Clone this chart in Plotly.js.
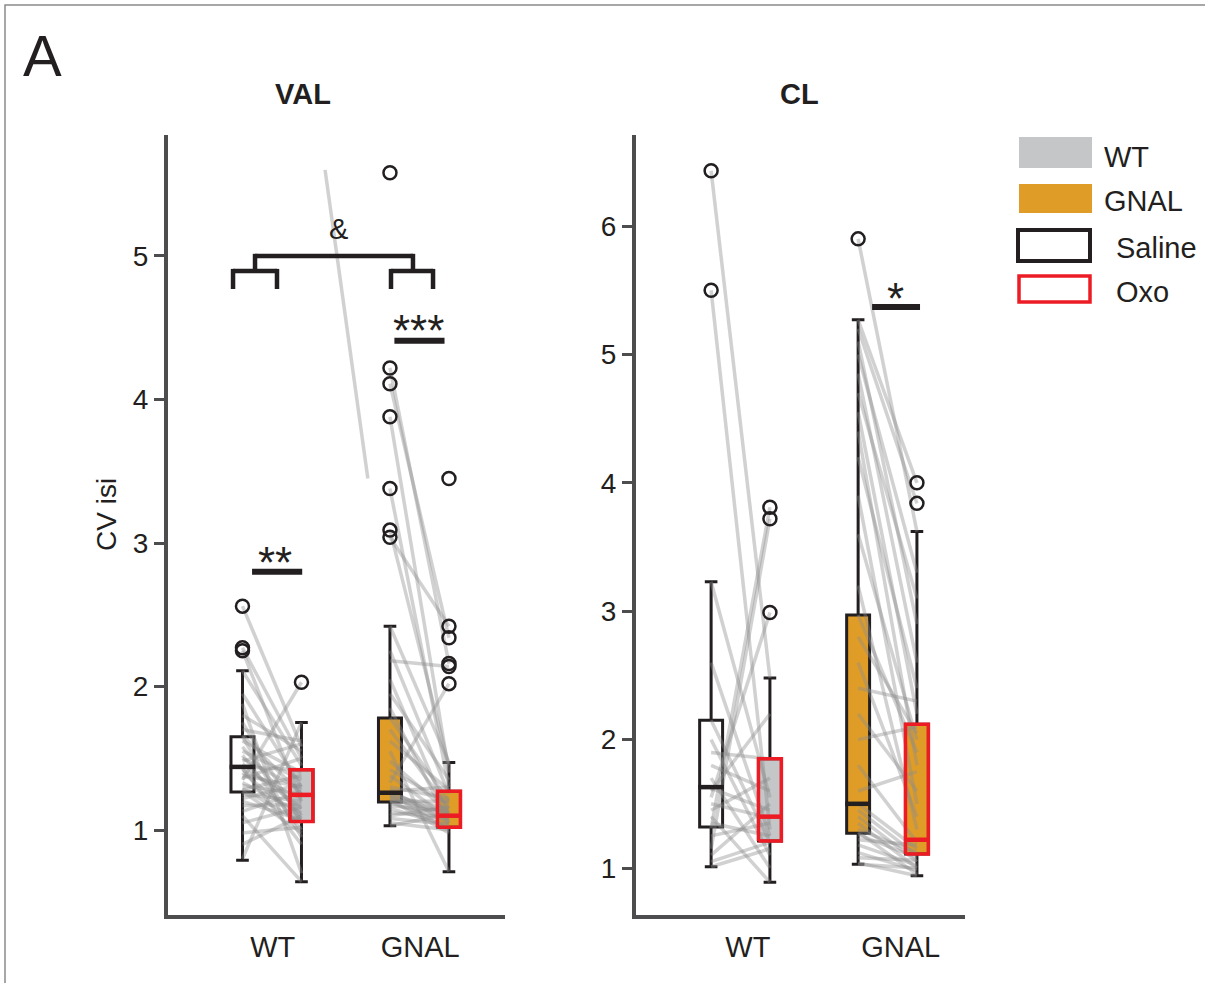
<!DOCTYPE html>
<html>
<head>
<meta charset="utf-8">
<script src="https://cdn.plot.ly/plotly-3.0.1.min.js"></script>
<style>html,body{margin:0;padding:0;background:#fff;}#chart{width:1205px;height:983px;}</style>
</head>
<body>
<div id="chart"></div>
<script>
// ---------------- DATA ----------------
const categories = ['WT', 'GNAL'];
const conditions = ['Saline', 'Oxo'];

// VAL box statistics: order = WT saline, WT oxo, GNAL saline, GNAL oxo
const valQ1  = [1.265, 1.06, 1.195, 1.02];
const valMed = [1.44, 1.245, 1.26, 1.10];
const valQ3  = [1.65, 1.42, 1.78, 1.27];
const valLo  = [0.79, 0.64, 1.03, 0.71];
const valHi  = [2.11, 1.75, 2.42, 1.47];
const valOutWTSal   = [2.56, 2.27, 2.25];
const valOutWTOxo   = [2.03];
const valOutGNALSal = [5.58, 4.22, 4.11, 3.88, 3.38, 3.09, 3.04];
const valOutGNALOxo = [3.45, 2.42, 2.34, 2.16, 2.14, 2.02];

// CL box statistics
const clQ1  = [1.32, 1.21, 1.27, 1.11];
const clMed = [1.63, 1.40, 1.50, 1.22];
const clQ3  = [2.15, 1.85, 2.97, 2.12];
const clLo  = [1.01, 0.89, 1.03, 0.94];
const clHi  = [3.23, 2.48, 5.27, 3.62];
const clOutWTSal   = [6.43, 5.50];
const clOutWTOxo   = [3.81, 3.72, 2.99];
const clOutGNALSal = [5.90];
const clOutGNALOxo = [4.00, 3.84];

// Paired cells (saline -> oxo), VAL
const valWTSal = [2.56,2.27,2.25,2.11,1.95,1.88,1.80,1.75,1.70,1.66,1.65,1.62,1.58,1.55,1.52,1.50,1.48,1.46,1.44,1.43,1.42,1.40,1.38,1.36,1.35,1.33,1.31,1.29,1.28,1.27,1.25,1.22,1.20,1.17,1.13,1.10,1.05,0.98,0.90,0.80];
const valWTOxo = [1.58,1.50,1.20,1.45,1.30,0.70,1.55,1.05,1.62,1.25,0.95,1.40,1.10,1.35,1.00,1.28,1.60,1.15,1.42,0.90,1.22,1.08,1.30,1.50,2.03,1.12,1.25,1.05,1.38,0.98,1.20,1.32,1.07,1.18,1.27,0.64,1.16,1.02,1.10,1.75];
const valGNALSal = [4.22,4.11,3.88,3.38,3.09,3.04,2.42,2.25,2.18,2.05,1.95,1.85,1.78,1.70,1.62,1.55,1.48,1.42,1.38,1.33,1.30,1.28,1.27,1.26,1.25,1.24,1.23,1.22,1.21,1.20,1.19,1.17,1.15,1.12,1.10,1.08,1.05,1.03];
const valGNALOxo = [2.16,2.34,1.40,1.30,1.45,2.42,1.47,1.25,2.14,1.10,1.35,1.05,1.20,1.15,1.28,0.71,1.12,1.18,1.08,2.02,1.22,1.05,1.30,1.10,1.00,1.15,1.08,1.12,0.98,1.20,1.06,1.13,1.03,1.09,1.16,1.04,1.00,1.11];
// stray segment visible in the VAL panel (x in category units, y in CV isi)
const valStrayX = [1.36, 1.65];
const valStrayY = [5.60, 3.45];

// Paired cells (saline -> oxo), CL
const clWTSal = [6.43,5.50,3.23,2.60,2.15,2.00,1.90,1.80,1.70,1.62,1.55,1.50,1.45,1.40,1.35,1.31,1.25,1.15,1.10,1.05,1.01,1.60];
const clWTOxo = [2.48,1.30,1.55,1.25,1.20,1.10,1.85,1.60,1.00,1.45,2.99,1.39,1.70,0.89,1.25,3.81,1.35,3.72,1.50,1.20,1.15,2.20];
const clGNALSal = [5.90,5.27,5.20,5.10,5.00,4.85,4.70,4.55,4.40,4.20,3.90,3.60,3.20,2.97,2.80,2.60,2.40,2.20,2.00,1.80,1.60,1.50,1.45,1.40,1.35,1.30,1.28,1.26,1.22,1.18,1.12,1.08,1.04,1.03];
const clGNALOxo = [3.62,4.00,3.84,2.90,3.30,2.60,3.10,2.20,1.80,2.40,1.50,2.00,1.30,1.90,2.05,1.40,2.30,1.60,2.10,1.20,1.75,1.15,1.10,1.05,1.00,1.12,0.95,1.08,1.18,1.02,0.98,1.06,0.94,1.00];

// ---------------- STYLE ----------------
const FONT = 'Liberation Sans, Arial, Helvetica, sans-serif';
const INK = '#231f20';
const AXIS = '#4d4d4f';
const RED = '#ed1c24';
const ORANGE = '#df9d27';
const GREY = '#c5c6c8';
const PAIR = 'rgba(140,140,140,0.40)';
const slotX = [0.8, 1.2, 1.8, 2.2];
const boxW = 0.156;
const boxFill = ['rgba(255,255,255,0)', GREY, ORANGE, ORANGE];
const W = 1205, H = 983;
const px = v => v / W, py = v => 1 - v / H;

const traces = [];
function panel(xa, ya, q1, med, q3, lo, hi, outs, pairs) {
  for (let i = 0; i < 4; i++) {
    traces.push({
      type: 'box', xaxis: xa, yaxis: ya, x: [slotX[i]],
      q1: [q1[i]], median: [med[i]], q3: [q3[i]], lowerfence: [lo[i]], upperfence: [hi[i]],
      width: boxW, whiskerwidth: 0.55, boxpoints: false,
      fillcolor: boxFill[i], line: {color: INK, width: 3},
      name: categories[Math.floor(i / 2)] + ' ' + conditions[i % 2], showlegend: false, hoverinfo: 'skip'
    });
  }
  pairs.forEach(([sal, oxo], g) => {
    const xs = [], ys = [];
    for (let k = 0; k < sal.length; k++) {
      xs.push(slotX[2 * g], slotX[2 * g + 1], null);
      ys.push(sal[k], oxo[k], null);
    }
    traces.push({type: 'scatter', mode: 'lines', xaxis: xa, yaxis: ya, x: xs, y: ys,
      line: {color: PAIR, width: 3.5}, showlegend: false, hoverinfo: 'skip'});
  });
  for (let i = 0; i < 4; i++) {
    const c = slotX[i], h = boxW / 2;
    if (i % 2 === 1) {
      traces.push({type: 'scatter', mode: 'lines', xaxis: xa, yaxis: ya,
        x: [c - h, c + h, c + h, c - h, c - h], y: [q1[i], q1[i], q3[i], q3[i], q1[i]],
        line: {color: RED, width: 3.5}, showlegend: false, hoverinfo: 'skip'});
    }
    traces.push({type: 'scatter', mode: 'lines', xaxis: xa, yaxis: ya,
      x: [c - h * 1.12, c + h * 1.12], y: [med[i], med[i]],
      line: {color: i % 2 ? RED : INK, width: 4.5}, showlegend: false, hoverinfo: 'skip'});
  }
  outs.forEach((o, i) => {
    traces.push({type: 'scatter', mode: 'markers', xaxis: xa, yaxis: ya,
      x: o.map(() => slotX[i]), y: o,
      marker: {symbol: 'circle-open', size: 13, color: INK, line: {width: 2.5, color: INK}},
      showlegend: false, hoverinfo: 'skip'});
  });
}

panel('x', 'y', valQ1, valMed, valQ3, valLo, valHi,
  [valOutWTSal, valOutWTOxo, valOutGNALSal, valOutGNALOxo],
  [[valWTSal, valWTOxo], [valGNALSal, valGNALOxo]]);
traces.push({type: 'scatter', mode: 'lines', xaxis: 'x', yaxis: 'y', x: valStrayX, y: valStrayY,
  line: {color: PAIR, width: 3.5}, showlegend: false, hoverinfo: 'skip'});
panel('x2', 'y2', clQ1, clMed, clQ3, clLo, clHi,
  [clOutWTSal, clOutWTOxo, clOutGNALSal, clOutGNALOxo],
  [[clWTSal, clWTOxo], [clGNALSal, clGNALOxo]]);

// ---------------- LAYOUT ----------------
const yDom = [py(915), py(135)];
const xAxisBase = {
  showline: true, linecolor: AXIS, linewidth: 4, showgrid: false, zeroline: false,
  tickmode: 'array', ticktext: categories, ticks: '',
  ticklabelstandoff: 3, tickfont: {family: FONT, size: 29, color: INK}, fixedrange: true
};
const yAxisBase = {
  showline: true, linecolor: AXIS, linewidth: 4, showgrid: false, zeroline: false,
  ticks: 'outside', ticklen: 10, tickwidth: 3, tickcolor: AXIS, dtick: 1,
  tickfont: {family: FONT, size: 28, color: INK}, fixedrange: true
};

const shapes = [];
function seg(xr, yr, x0, y0, x1, y1, w, color) {
  shapes.push({type: 'line', xref: xr, yref: yr, x0, y0, x1, y1, line: {color: color || INK, width: w}});
}
shapes.push({type: 'rect', xref: 'paper', yref: 'paper', x0: px(5), x1: 1.02, y0: -0.02, y1: py(5),
  line: {color: '#8a8a8a', width: 1.5}});
seg('x', 'y', 0.865, 2.80, 1.205, 2.80, 6);
seg('x', 'y', 1.83, 4.41, 2.17, 4.41, 6);
seg('x', 'y', 0.885, 5.0, 1.956, 5.0, 4.5);
seg('x', 'y', 0.885, 4.89, 0.885, 5.015, 4.5);
seg('x', 'y', 1.956, 4.89, 1.956, 5.015, 4.5);
seg('x', 'y', 0.736, 4.895, 1.034, 4.895, 4.5);
seg('x', 'y', 0.736, 4.77, 0.736, 4.91, 4.5);
seg('x', 'y', 1.034, 4.77, 1.034, 4.91, 4.5);
seg('x', 'y', 1.807, 4.895, 2.092, 4.895, 4.5);
seg('x', 'y', 1.807, 4.77, 1.807, 4.91, 4.5);
seg('x', 'y', 2.092, 4.77, 2.092, 4.91, 4.5);
seg('x2', 'y2', 1.895, 5.37, 2.221, 5.37, 6);

shapes.push({type: 'rect', xref: 'paper', yref: 'paper', x0: px(1019), x1: px(1092), y0: py(168), y1: py(137),
  fillcolor: GREY, line: {width: 0}});
shapes.push({type: 'rect', xref: 'paper', yref: 'paper', x0: px(1019), x1: px(1092), y0: py(213), y1: py(184),
  fillcolor: ORANGE, line: {width: 0}});
shapes.push({type: 'rect', xref: 'paper', yref: 'paper', x0: px(1018), x1: px(1090), y0: py(261), y1: py(230),
  fillcolor: 'rgba(0,0,0,0)', line: {color: INK, width: 4}});
shapes.push({type: 'rect', xref: 'paper', yref: 'paper', x0: px(1019), x1: px(1090), y0: py(302), y1: py(276),
  fillcolor: 'rgba(0,0,0,0)', line: {color: RED, width: 3.5}});

function note(text, x, y, size, opts) {
  return Object.assign({text, xref: 'paper', yref: 'paper', x: px(x), y: py(y), showarrow: false,
    xanchor: 'center', yanchor: 'middle', font: {family: FONT, size, color: INK}}, opts || {});
}
const annotations = [
  note('A', 42, 56, 58),
  note('<b>VAL</b>', 303, 94, 29),
  note('<b>CL</b>', 799, 94, 29),
  note('CV isi', 106, 515, 28, {textangle: -90}),
  note('**', 275, 562, 44),
  note('***', 418, 330, 44),
  note('&', 338, 229, 29),
  note('*', 895, 299, 44),
  note('WT', 1102, 157, 29, {xanchor: 'left'}),
  note('GNAL', 1102, 201, 29, {xanchor: 'left'}),
  note('Saline', 1114, 248, 29, {xanchor: 'left'}),
  note('Oxo', 1114, 292, 29, {xanchor: 'left'})
];

const layout = {
  width: W, height: H, margin: {l: 0, r: 0, t: 0, b: 0},
  paper_bgcolor: '#ffffff', plot_bgcolor: 'rgba(0,0,0,0)', showlegend: false,
  boxmode: 'overlay',
  xaxis: Object.assign({}, xAxisBase, {tickvals: [1.005, 2.005], domain: [px(168), px(505)], range: [0.295, 2.58], anchor: 'y'}),
  yaxis: Object.assign({}, yAxisBase, {domain: yDom, range: [0.408, 5.843], anchor: 'x'}),
  xaxis2: Object.assign({}, xAxisBase, {tickvals: [1.05, 2.09], domain: [px(636), px(965)], range: [0.289, 2.527], anchor: 'y2'}),
  yaxis2: Object.assign({}, yAxisBase, {domain: yDom, range: [0.634, 6.709], anchor: 'x2'}),
  shapes, annotations
};

Plotly.newPlot('chart', traces, layout, {displayModeBar: false, staticPlot: true});
</script>
</body>
</html>
